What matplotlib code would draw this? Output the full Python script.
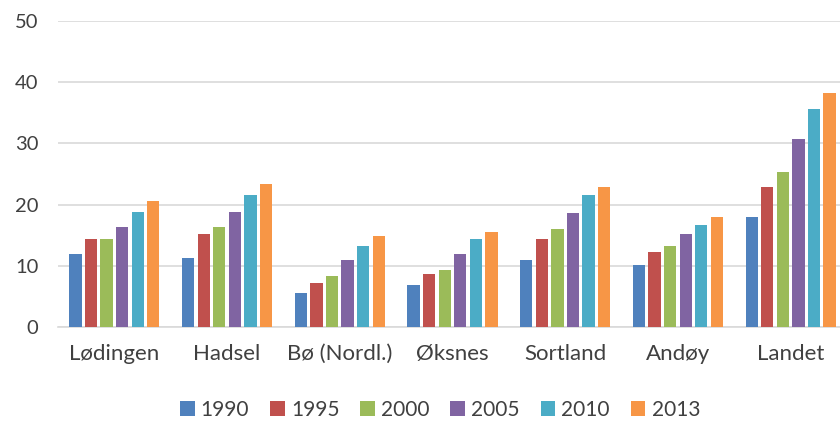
import matplotlib.pyplot as plt
import numpy as np

plt.rcParams['font.family'] = ['Lato', 'DejaVu Sans']

kommuner = ['Lødingen', 'Hadsel', 'Bø (Nordl.)', 'Øksnes', 'Sortland', 'Andøy', 'Landet']
years = ['1990', '1995', '2000', '2005', '2010', '2013']

v1990 = [11.9, 11.2, 5.6, 6.8, 11.0, 10.1, 17.9]
v1995 = [14.4, 15.2, 7.2, 8.7, 14.4, 12.3, 22.9]
v2000 = [14.3, 16.4, 8.4, 9.3, 16.0, 13.3, 25.4]
v2005 = [16.4, 18.8, 11.0, 12.0, 18.6, 15.2, 30.7]
v2010 = [18.8, 21.5, 13.3, 14.4, 21.5, 16.7, 35.7]
v2013 = [20.6, 23.3, 14.9, 15.6, 22.9, 17.9, 38.3]
series = [v1990, v1995, v2000, v2005, v2010, v2013]

colors = ['#4F81BD', '#C0504D', '#9BBB59', '#8064A2', '#4BACC6', '#F79646']

fig = plt.figure(figsize=(8.4, 4.22), dpi=100)
# plot area runs a bit past the right edge, like the cropped original
ax = fig.add_axes([58 / 840, 1 - 327 / 422, (847 - 58) / 840, (327 - 21) / 422])

x = np.arange(len(kommuner))
pitch = 0.138
width = 0.109
for i, (vals, c, yr) in enumerate(zip(series, colors, years)):
    ax.bar(x + (i - 2.5) * pitch, vals, width, color=c, label=yr, zorder=3)

ax.set_xlim(-0.5, len(kommuner) - 0.5)
ax.set_ylim(0, 50)
ax.set_yticks(range(0, 51, 10))
ax.set_xticks(x)
ax.set_xticklabels(kommuner)
ax.yaxis.grid(True, color='#D9D9D9', linewidth=1.2, zorder=0)
ax.tick_params(axis='both', length=0, labelcolor='#404040')
ax.tick_params(axis='x', pad=12, labelsize=16)
ax.tick_params(axis='y', pad=14, labelsize=14.5)
for s in ['top', 'right', 'left']:
    ax.spines[s].set_visible(False)
ax.spines['bottom'].set_color('#D9D9D9')
ax.spines['bottom'].set_linewidth(1.2)

fig.legend(loc='center', bbox_to_anchor=(440 / 840, 1 - 410 / 422), ncol=6, frameon=False,
           fontsize=15, handlelength=0.7, handleheight=0.7, handletextpad=0.3,
           columnspacing=1.0, labelcolor='#404040')

fig.savefig('out.png', dpi=100)
